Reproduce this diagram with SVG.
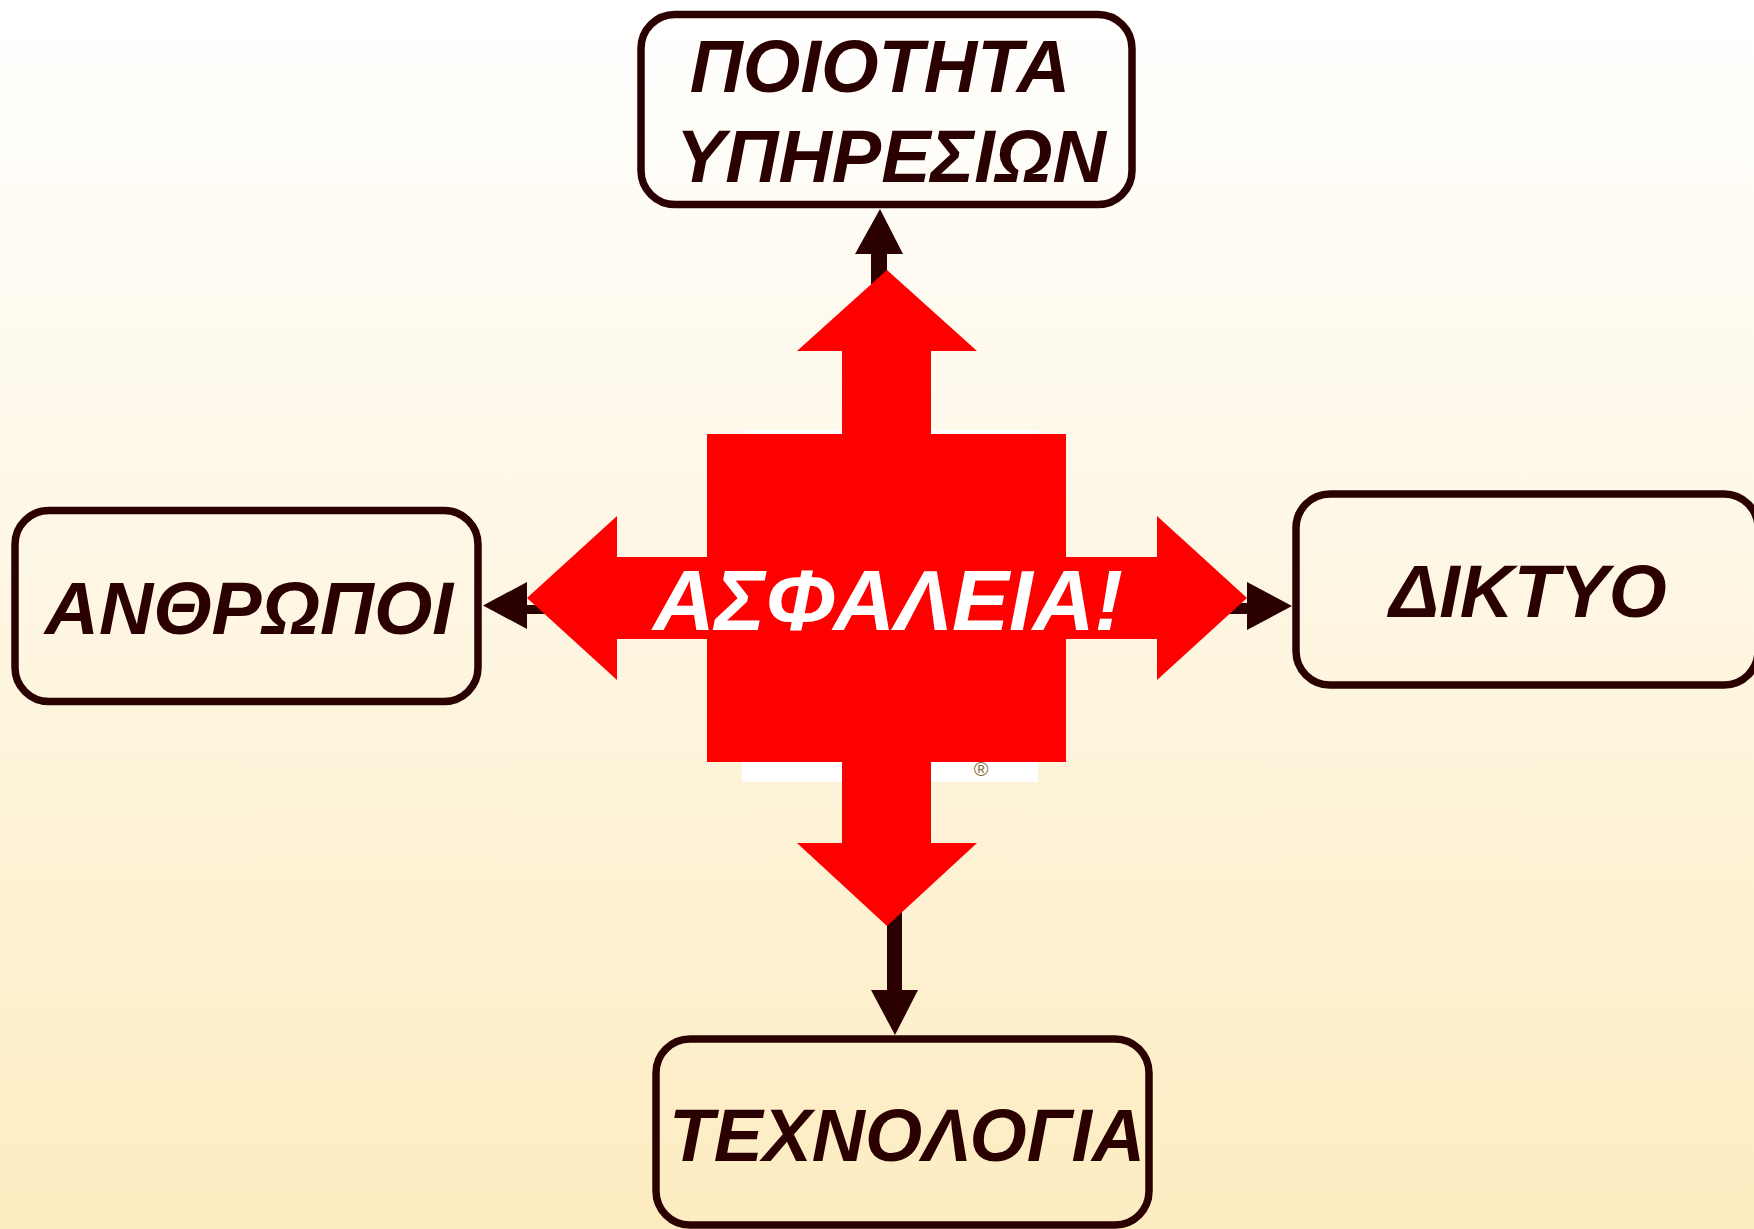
<svg xmlns="http://www.w3.org/2000/svg" width="1754" height="1229" viewBox="0 0 1754 1229">
  <defs>
    <linearGradient id="bg" x1="0" y1="0" x2="0" y2="1">
      <stop offset="0" stop-color="#ffffff"/>
      <stop offset="0.5" stop-color="#fef6e2"/>
      <stop offset="1" stop-color="#fdecc1"/>
    </linearGradient>
    <style>
      .box { fill: none; stroke: #2b0000; stroke-width: 7.5; }
      .lbl { font-family: "Liberation Sans", Arial, sans-serif; font-weight: bold; font-style: italic; fill: #2b0000; text-anchor: middle; }
      .dark { fill: #2b0000; }
    </style>
  </defs>
  <rect x="0" y="0" width="1754" height="1229" fill="url(#bg)"/>

  <g id="connectors">
    <!-- up -->
    <rect class="dark" x="871" y="250" width="16" height="60"/>
    <polygon class="dark" points="880,209 903,254 855,254"/>
    <!-- left -->
    <rect class="dark" x="525" y="605" width="40" height="9"/>
    <polygon class="dark" points="483,605.5 527,582 527,629"/>
    <!-- right -->
    <rect class="dark" x="1210" y="603" width="40" height="11"/>
    <polygon class="dark" points="1292,606 1247,582 1247,630"/>
    <!-- down -->
    <rect class="dark" x="887" y="880" width="15" height="112"/>
    <polygon class="dark" points="895,1035 871,990 918,990"/>
  </g>

  <g id="center">
    <rect x="742" y="430" width="296" height="352" fill="#ffffff"/>
    <text x="981" y="776" font-family="Liberation Sans, Arial, sans-serif" font-size="20" fill="#8a6d3b" text-anchor="middle">®</text>
    <polygon fill="#ff0000" points="887,270 977,351 931,351 931,434 1066,434 1066,557 1157,557 1157,516 1247,598 1157,680 1157,639 1066,639 1066,762 931,762 931,843 977,843 887,926 797,843 842,843 842,762 707,762 707,639 617,639 617,680 527,598 617,516 617,557 707,557 707,434 842,434 842,351 797,351"/>
    <text class="lbl" x="888" y="630" font-size="85.5" style="fill:#ffffff">ΑΣΦΑΛΕΙΑ!</text>
  </g>

  <g id="node-quality">
    <rect class="box" x="641" y="14.5" width="491" height="190" rx="34"/>
    <text class="lbl" x="880" y="92" font-size="74">ΠΟΙΟΤΗΤΑ</text>
    <text class="lbl" x="891" y="182" font-size="74">ΥΠΗΡΕΣΙΩΝ</text>
  </g>

  <g id="node-people">
    <rect class="box" x="15" y="510.5" width="463" height="191" rx="34"/>
    <text class="lbl" x="249" y="634" font-size="75">ΑΝΘΡΩΠΟΙ</text>
  </g>

  <g id="node-network">
    <rect class="box" x="1296" y="494" width="462" height="191" rx="34"/>
    <text class="lbl" x="1528" y="617" font-size="74.5">ΔΙΚΤΥΟ</text>
  </g>

  <g id="node-technology">
    <rect class="box" x="656" y="1039" width="493" height="186" rx="34"/>
    <text class="lbl" x="907" y="1161" font-size="73.5">ΤΕΧΝΟΛΟΓΙΑ</text>
  </g>
</svg>
